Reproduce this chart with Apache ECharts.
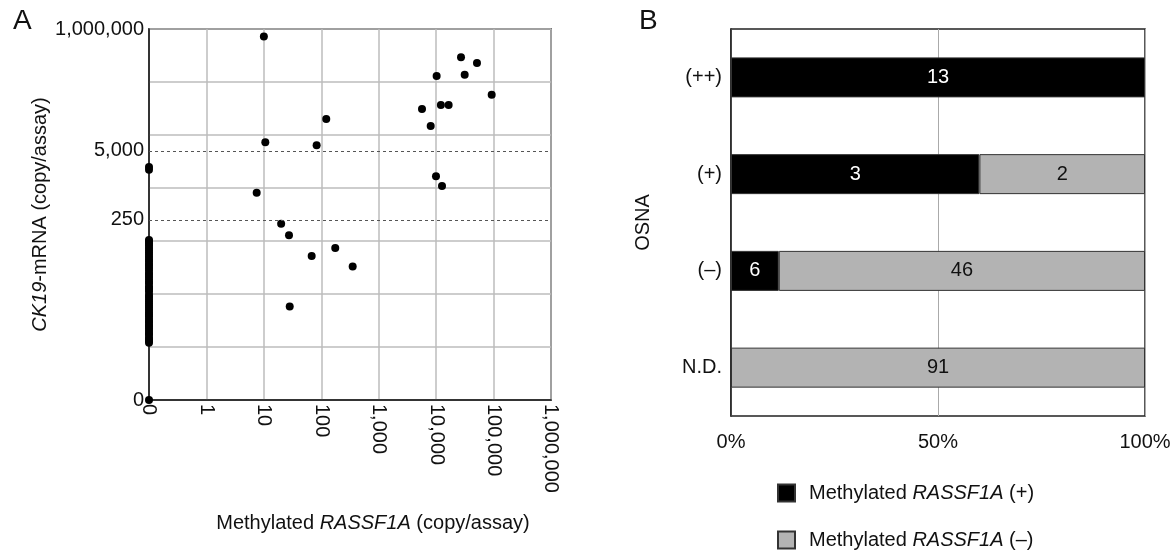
<!DOCTYPE html>
<html lang="en">
<head>
  <meta charset="UTF-8">
  <title>RASSF1A / CK19</title>
  <script src="https://cdn.jsdelivr.net/npm/echarts@6/dist/echarts.min.js"></script>
  <style>
    html, body { margin: 0; padding: 0; background: #fff; }
    #chart { width: 1172px; height: 551px; }
  </style>
</head>
<body>
  <div id="chart"></div>
  <script>
    // panel A: copies per assay, 0 means not detected
    const methylatedCopies = [10, 10.6, 83, 122, 27100, 51400, 31400, 10200, 92700, 12100, 16500, 5670, 8040,
      7.5, 9940, 12650, 0, 0,
      20, 27.4, 175, 68, 352, 28.2,
      0];
    const ck19Copies = [720000, 7300, 6400, 20000, 292000, 228000, 137000, 130000, 57500, 36800, 36800, 31000, 14800,
      815, 1660, 1090, 2500, 2200,
      212, 128, 74, 52, 33, 5.8,
      0];
    // CK19 copies of cases with no methylated RASSF1A (all sit on x = 0)
    const ck19NoMeth = [1.2, 1.3, 1.4, 1.5, 1.7, 1.8, 2, 2.2, 2.4, 2.6, 2.9, 3.1, 3.4, 3.8, 4.1, 4.5,
      5, 5.5, 6, 6.6, 7.3, 8, 8.8, 9.6, 11, 12, 13, 14, 16, 17, 19, 21, 23, 25, 28, 31, 34, 37,
      41, 45, 50, 55, 61, 67, 74, 82, 90, 98, 105];
    const ck19Cutoffs = [250, 5000];

    // panel B: counts per OSNA group
    const osnaGroups = ['(++)', '(+)', '(–)', 'N.D.'];
    const methPosCounts = [13, 3, 6, 0];
    const methNegCounts = [0, 2, 46, 91];
    const seriesNames = ['Methylated RASSF1A (+)', 'Methylated RASSF1A (–)'];

    const FLOOR = 0.1; // where "0" sits on the log axes
    const FONT = 'Liberation Sans, Arial, sans-serif';

    const scatterData = methylatedCopies.map((x, i) => [x > 0 ? x : FLOOR, ck19Copies[i] > 0 ? ck19Copies[i] : FLOOR]);
    ck19NoMeth.forEach(y => scatterData.push([FLOOR, y]));

    const logLabel = v => v < 0.5 ? '0' : Math.round(v).toLocaleString('en-US');

    function share(counts, i) {
      const total = methPosCounts[i] + methNegCounts[i];
      return counts[i] > 0 ? counts[i] / total * 100 : '-';
    }

    const italicRich = { i: { fontStyle: 'italic', fontSize: 20, color: '#111', fontFamily: FONT } };

    function legendFor(name, top) {
      return {
        left: 772,
        top: top,
        itemWidth: 17,
        itemHeight: 17,
        icon: 'rect',
        selectedMode: false,
        formatter: n => n.replace('RASSF1A', '{i|RASSF1A}'),
        textStyle: { fontSize: 20, color: '#111', fontFamily: FONT, padding: [0, 0, 0, 9], rich: italicRich },
        data: [name]
      };
    }

    const chart = echarts.init(document.getElementById('chart'));
    chart.setOption({
      animation: false,
      textStyle: { fontFamily: FONT },
      title: [
        { text: 'A', left: 8, top: 2, textStyle: { fontSize: 28, fontWeight: 'normal', color: '#111', fontFamily: FONT } },
        { text: 'B', left: 634, top: 2, textStyle: { fontSize: 28, fontWeight: 'normal', color: '#111', fontFamily: FONT } }
      ],
      legend: [legendFor(seriesNames[0], 478), legendFor(seriesNames[1], 525)],
      grid: [
        { left: 149, right: 621, top: 29, bottom: 151, show: true, borderColor: '#111', borderWidth: 1.5, outerBoundsMode: 'none' },
        { left: 731, right: 27, top: 29, bottom: 135, show: true, borderColor: '#222', borderWidth: 1.5, outerBoundsMode: 'none' }
      ],
      xAxis: [
        {
          gridIndex: 0,
          type: 'log',
          logBase: 10,
          min: FLOOR,
          max: 1000000,
          name: 'Methylated {i|RASSF1A} (copy/assay)',
          nameLocation: 'middle',
          nameGap: 113,
          nameMoveOverlap: false,
          nameTextStyle: { fontSize: 20, color: '#111', padding: [0, 0, 0, 46], rich: italicRich },
          axisLine: { lineStyle: { color: '#111', width: 1.5 } },
          axisTick: { show: false },
          axisLabel: { rotate: -90, margin: 4, fontSize: 20, color: '#111', formatter: logLabel },
          splitLine: { show: true, lineStyle: { color: '#bcbcbc', width: 1.5 } }
        },
        {
          gridIndex: 1,
          type: 'value',
          min: 0,
          max: 100,
          interval: 50,
          axisLine: { lineStyle: { color: '#222', width: 1.5 } },
          axisTick: { show: false },
          axisLabel: { margin: 16, fontSize: 20, color: '#111', formatter: '{value}%' },
          splitLine: { show: true, lineStyle: { color: '#aaa', width: 1 } }
        }
      ],
      yAxis: [
        {
          gridIndex: 0,
          type: 'log',
          logBase: 10,
          min: FLOOR,
          max: 1000000,
          name: '{i|CK19}-mRNA (copy/assay)',
          nameLocation: 'middle',
          nameGap: 99,
          nameMoveOverlap: false,
          nameTextStyle: { fontSize: 20, color: '#111', rich: italicRich },
          axisLine: { lineStyle: { color: '#111', width: 1.5 } },
          axisTick: { show: false },
          axisLabel: {
            margin: 5, fontSize: 20, color: '#111',
            formatter: v => (v < 0.5 || v > 500000) ? logLabel(v) : ''
          },
          splitLine: { show: true, lineStyle: { color: '#bcbcbc', width: 1.5 } }
        },
        {
          gridIndex: 1,
          type: 'category',
          inverse: true,
          data: osnaGroups,
          name: 'OSNA',
          nameLocation: 'middle',
          nameGap: 78,
          nameMoveOverlap: false,
          nameTextStyle: { fontSize: 20, color: '#111' },
          axisLine: { lineStyle: { color: '#222', width: 1.5 } },
          axisTick: { show: false },
          axisLabel: { margin: 9, fontSize: 20, color: '#111' },
          splitLine: { show: false }
        }
      ],
      series: [
        {
          type: 'scatter',
          xAxisIndex: 0,
          yAxisIndex: 0,
          symbolSize: 8,
          clip: false,
          itemStyle: { color: '#000', opacity: 1 },
          data: scatterData,
          markLine: {
            silent: true,
            symbol: 'none',
            lineStyle: { type: [3, 3], color: '#555', width: 1 },
            label: {
              position: 'start', distance: 5, fontSize: 20, color: '#111', fontFamily: FONT,
              formatter: p => p.value.toLocaleString('en-US')
            },
            data: ck19Cutoffs.map(v => ({ yAxis: v }))
          }
        },
        {
          name: seriesNames[0],
          type: 'bar',
          stack: 'osna',
          xAxisIndex: 1,
          yAxisIndex: 1,
          barWidth: 40,
          itemStyle: { color: '#000', borderColor: '#333', borderWidth: 1 },
          label: {
            show: true, position: 'inside', fontSize: 20, color: '#fff',
            formatter: p => methPosCounts[p.dataIndex]
          },
          data: osnaGroups.map((g, i) => share(methPosCounts, i))
        },
        {
          name: seriesNames[1],
          type: 'bar',
          stack: 'osna',
          xAxisIndex: 1,
          yAxisIndex: 1,
          barWidth: 40,
          itemStyle: { color: '#b3b3b3', borderColor: '#333', borderWidth: 1 },
          label: {
            show: true, position: 'inside', fontSize: 20, color: '#111',
            formatter: p => methNegCounts[p.dataIndex]
          },
          data: osnaGroups.map((g, i) => share(methNegCounts, i))
        }
      ]
    });
  </script>
</body>
</html>
